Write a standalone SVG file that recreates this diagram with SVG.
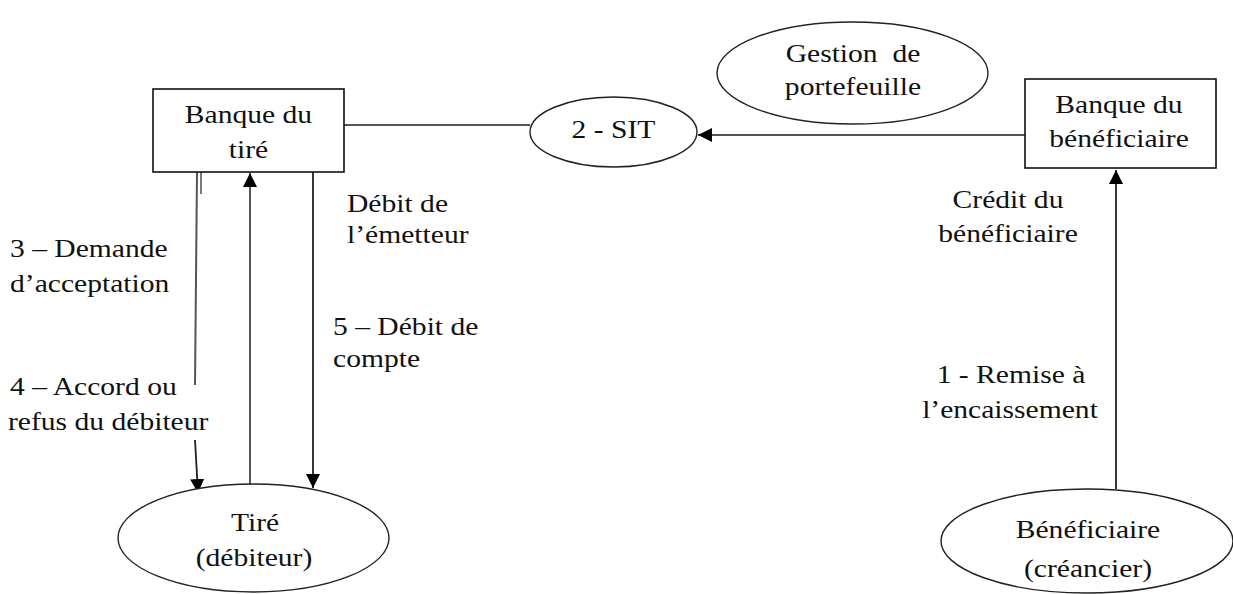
<svg xmlns="http://www.w3.org/2000/svg" width="1233" height="594" viewBox="0 0 1233 594">
<style>
.t{font-family:"Liberation Serif","Times New Roman",serif;font-size:25.5px;fill:#111}
.m{text-anchor:middle}
.box{fill:#fff;stroke:#111;stroke-width:1.6}
.ell{fill:#fff;stroke:#222;stroke-width:1.4}
.ln{fill:none;stroke:#555;stroke-width:2}
.dk{fill:none;stroke:#222;stroke-width:1.8}
</style>
<defs>
<marker id="ah" viewBox="0 0 14 14" refX="14" refY="7" markerWidth="14" markerHeight="14" markerUnits="userSpaceOnUse" orient="auto">
<path d="M0,0 L14,7 L0,14 z" fill="#000"/>
</marker>
</defs>
<rect width="1233" height="594" fill="#fff"/>
<g id="connectors">
<line class="ln" x1="344" y1="125" x2="530" y2="125"/>
<line class="ln" x1="1025" y1="135" x2="698" y2="135" marker-end="url(#ah)"/>
<line class="ln" x1="197" y1="172" x2="195" y2="385"/>
<line class="dk" x1="201" y1="172" x2="201" y2="194" style="stroke-width:1.2"/>
<line class="dk" x1="195" y1="440" x2="198" y2="493" marker-end="url(#ah)"/>
<line class="ln" x1="250" y1="490" x2="250" y2="173" marker-end="url(#ah)"/>
<line class="dk" x1="313" y1="172" x2="313" y2="488" marker-end="url(#ah)"/>
<line class="dk" x1="1116" y1="489" x2="1116" y2="170" marker-end="url(#ah)"/>
</g>
<g id="banque-tire">
<rect class="box" x="153" y="89" width="191" height="83"/>
<text class="t m" transform="translate(248.5,123) scale(1.16,1)">Banque du</text>
<text class="t m" transform="translate(248.5,158) scale(1.16,1)">tiré</text>
</g>
<g id="sit">
<ellipse class="ell" cx="613.5" cy="132" rx="83.5" ry="35"/>
<text class="t m" transform="translate(613.5,138) scale(1.16,1)">2 - SIT</text>
</g>
<g id="gestion">
<ellipse class="ell" cx="852.5" cy="73" rx="135.5" ry="51"/>
<text class="t m" transform="translate(853,62) scale(1.16,1)" xml:space="preserve">Gestion  de</text>
<text class="t m" transform="translate(853,95) scale(1.16,1)">portefeuille</text>
</g>
<g id="banque-beneficiaire">
<rect class="box" x="1025" y="79" width="191" height="89"/>
<text class="t m" transform="translate(1119,113) scale(1.16,1)">Banque du</text>
<text class="t m" transform="translate(1119,147) scale(1.16,1)">bénéficiaire</text>
</g>
<g id="tire">
<ellipse class="ell" cx="253.5" cy="538" rx="135.5" ry="54"/>
<text class="t m" transform="translate(255,531) scale(1.16,1)">Tiré</text>
<text class="t m" transform="translate(254,566) scale(1.16,1)">(débiteur)</text>
</g>
<g id="beneficiaire">
<ellipse class="ell" cx="1087" cy="541" rx="146" ry="52"/>
<text class="t m" transform="translate(1088,538) scale(1.16,1)">Bénéficiaire</text>
<text class="t m" transform="translate(1088,577) scale(1.16,1)">(créancier)</text>
</g>
<g id="labels">
<text class="t" transform="translate(10,257) scale(1.16,1)">3 – Demande</text>
<text class="t" transform="translate(10,292) scale(1.16,1)">d’acceptation</text>
<text class="t" transform="translate(10,395) scale(1.16,1)">4 – Accord ou</text>
<text class="t" transform="translate(8,430) scale(1.16,1)">refus du débiteur</text>
<text class="t" transform="translate(347,212) scale(1.16,1)">Débit de</text>
<text class="t" transform="translate(347,243) scale(1.16,1)">l’émetteur</text>
<text class="t" transform="translate(333,335) scale(1.16,1)">5 – Débit de</text>
<text class="t" transform="translate(333,367) scale(1.16,1)">compte</text>
<text class="t m" transform="translate(1008,208) scale(1.16,1)">Crédit du</text>
<text class="t m" transform="translate(1008,242) scale(1.16,1)">bénéficiaire</text>
<text class="t m" transform="translate(1011,383) scale(1.16,1)">1 - Remise à</text>
<text class="t m" transform="translate(1010,418) scale(1.16,1)">l’encaissement</text>
</g>
</svg>
